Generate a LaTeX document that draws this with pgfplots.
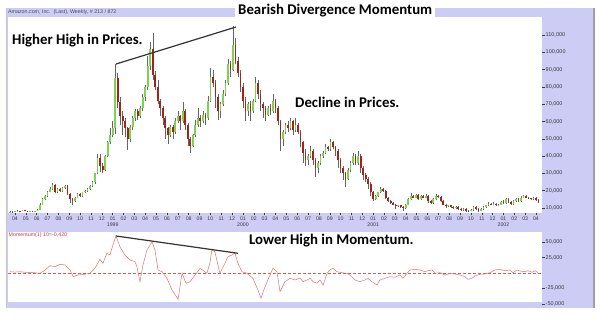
\documentclass[border=0pt]{standalone}
\usepackage{pgfplots}
\pgfplotsset{compat=1.18}
\usepackage{pgfplotstable}
\usepackage{fontspec}
\setmainfont{Liberation Sans}
\newfontfamily\annfont{Carlito}
\definecolor{lav}{RGB}{204,204,245}
\definecolor{upc}{RGB}{125,210,85}
\definecolor{dnc}{RGB}{165,35,20}
\definecolor{wickc}{RGB}{100,100,100}
\definecolor{momc}{RGB}{220,115,115}
\definecolor{zeroc}{RGB}{200,95,90}
\definecolor{tickc}{RGB}{60,60,60}

\pgfplotstableread{
k lo hi op cl
-2 7.3 8.1 7.6 7.9
0 7.6 8.2 7.7 8.0
1 7.9 8.6 8.0 8.4
3 8.0 8.8 8.1 8.6
6 7.9 8.5 8.0 8.3
8 7.8 8.4 7.9 8.2
9 8.0 9.4 8.2 9.0
10 8.8 12.6 9.0 12.0
11 11.6 15.5 12.0 15.0
12 14.5 17.6 15.0 17.0
13 16.5 20.0 17.0 19.5
14 19.0 22.0 19.5 21.0
15 20.5 24.5 21.0 23.0
17 18.5 21.5 19.0 21.0
19 19.5 22.0 20.0 21.5
20 21.0 23.5 21.5 22.5
24 13.5 16.5 14.0 16.0
25 15.5 18.5 16.0 18.0
27 16.5 19.5 17.0 19.0
28 18.5 20.5 19.0 20.0
29 19.5 21.5 20.0 21.0
30 20.5 23.0 21.0 22.5
31 22.0 25.5 22.5 25.0
32 24.0 30.5 25.0 30.0
33 29.5 41.0 30.0 39.0
36 31.5 40.5 32.0 40.0
37 39.5 49.0 40.0 48.0
38 47.0 56.0 48.0 52.0
39 51.0 60.0 52.0 56.0
40 53.0 93.0 56.0 85.0
46 48.0 58.0 50.0 57.0
47 55.0 63.0 57.0 62.0
48 60.0 67.0 62.0 66.0
50 62.0 69.0 63.0 68.0
51 66.0 76.0 68.0 74.0
52 72.0 81.0 74.0 80.0
53 78.0 98.0 80.0 92.0
54 90.0 106.0 92.0 102.0
62 51.0 58.0 52.0 57.0
64 53.0 62.0 54.0 60.0
65 59.0 66.0 60.0 63.0
67 59.0 71.0 60.0 66.0
71 45.0 53.0 46.0 52.0
72 51.0 61.0 52.0 58.0
73 57.0 68.0 58.0 62.0
75 59.0 66.0 60.0 64.0
77 61.0 75.0 62.0 72.0
78 71.0 91.0 72.0 86.0
82 62.0 71.0 66.0 70.0
83 69.0 78.0 70.0 76.0
84 75.0 84.0 76.0 82.0
85 81.0 96.0 82.0 93.0
87 89.0 115.0 90.0 104.0
93 63.0 71.0 66.0 70.0
95 65.0 73.0 66.0 72.0
96 71.0 86.0 72.0 82.0
101 63.0 69.0 64.0 68.0
103 65.0 76.0 66.0 72.0
107 46.0 55.0 50.0 54.0
108 53.0 59.0 54.0 58.0
110 55.0 62.0 56.0 60.0
112 54.0 62.0 55.0 58.0
117 35.0 41.0 38.0 40.0
118 39.0 46.0 40.0 43.0
121 30.0 37.0 33.0 36.0
122 35.0 41.0 36.0 40.0
123 39.0 43.0 40.0 42.0
124 41.0 47.0 42.0 45.0
126 43.0 50.0 44.0 48.0
133 26.0 33.0 27.0 32.0
134 31.0 37.0 32.0 36.0
135 35.0 42.0 36.0 40.0
137 35.0 43.0 36.0 40.0
144 14.5 17.5 15.0 17.0
145 16.5 19.5 17.0 19.0
146 18.5 22.0 19.0 21.0
153 10.5 12.0 11.0 11.5
156 9.5 12.5 10.0 12.0
157 11.5 15.5 12.0 15.0
158 14.5 18.5 15.0 17.0
160 15.5 18.0 16.0 17.5
162 14.5 17.5 15.0 17.0
164 15.5 18.0 16.0 17.0
167 12.5 15.5 13.0 15.0
168 14.5 18.0 15.0 17.0
173 10.5 12.0 11.0 11.5
176 9.5 11.0 10.0 10.5
179 8.5 10.0 9.0 9.5
182 8.0 9.5 8.2 9.0
183 8.5 11.0 9.0 10.5
186 8.0 10.0 8.5 9.5
187 9.0 11.0 9.5 10.5
188 10.0 12.0 10.5 11.5
189 11.0 13.5 11.5 12.5
191 11.5 13.5 12.0 12.5
193 11.0 12.5 11.5 12.0
194 11.5 14.0 12.0 13.5
196 12.5 16.0 13.0 15.0
199 12.0 14.5 12.5 14.0
200 13.5 15.5 14.0 15.0
202 13.5 17.0 14.0 16.0
203 15.5 17.5 16.0 17.0
207 14.5 16.5 15.0 16.0
}\upc

\pgfplotstableread{
k lo hi op cl
-1 7.5 8.0 7.9 7.7
2 7.9 8.5 8.4 8.1
4 8.1 8.7 8.6 8.3
5 7.8 8.4 8.3 8.0
7 7.7 8.4 8.3 7.9
16 18.5 24.0 23.0 19.0
18 19.5 21.8 21.0 20.0
21 17.5 23.0 22.5 18.0
22 13.0 18.5 18.0 15.0
23 12.0 15.5 15.0 14.0
26 16.5 18.5 18.0 17.0
34 31.0 41.0 39.0 34.0
35 30.0 36.0 34.0 32.0
41 68.0 88.0 85.0 71.0
42 58.0 74.0 71.0 63.0
43 52.0 66.0 63.0 60.0
44 51.0 62.0 60.0 56.0
45 43.5 57.0 56.0 50.0
49 61.0 67.5 66.0 63.0
55 84.0 111.0 102.0 87.0
56 78.0 89.0 87.0 80.0
57 70.0 84.0 80.0 72.0
58 63.0 73.0 72.0 68.0
59 58.0 69.0 68.0 62.0
60 50.0 63.0 62.0 56.0
61 47.0 57.0 56.0 52.0
63 50.0 58.0 57.0 54.0
66 55.0 64.0 63.0 60.0
68 55.0 67.0 66.0 58.0
69 46.0 59.0 58.0 50.0
70 42.0 51.0 50.0 46.0
74 57.0 64.0 62.0 60.0
76 58.0 65.0 64.0 62.0
79 80.0 90.0 86.0 82.0
80 68.0 84.0 82.0 74.0
81 61.0 76.0 74.0 66.0
86 86.0 95.0 93.0 90.0
88 93.0 108.0 104.0 95.0
89 86.0 97.0 95.0 88.0
90 77.0 90.0 88.0 80.0
91 68.0 82.0 80.0 72.0
92 60.0 74.0 72.0 66.0
94 60.0 72.0 70.0 66.0
97 73.0 84.0 82.0 76.0
98 66.0 78.0 76.0 70.0
99 62.0 71.0 70.0 68.0
100 60.0 69.0 68.0 64.0
102 64.0 70.0 68.0 66.0
104 65.0 73.0 72.0 68.0
105 58.0 69.0 68.0 60.0
106 43.0 61.0 60.0 50.0
109 54.0 60.0 58.0 56.0
111 52.0 61.0 60.0 55.0
113 53.0 59.0 58.0 54.0
114 45.0 55.0 54.0 48.0
115 36.0 49.0 48.0 42.0
116 34.0 44.0 42.0 38.0
119 35.0 44.0 43.0 38.0
120 28.0 39.0 38.0 33.0
125 43.0 46.0 45.0 44.0
127 44.0 49.0 48.0 45.0
128 40.0 46.0 45.0 43.0
129 33.0 44.0 43.0 38.0
130 30.0 39.0 38.0 33.0
131 26.0 34.0 33.0 30.0
132 22.0 31.0 30.0 27.0
136 35.0 41.0 40.0 36.0
138 30.0 41.0 40.0 33.0
139 26.0 34.0 33.0 29.0
140 25.0 30.0 29.0 27.0
141 21.0 28.0 27.0 24.0
142 17.0 25.0 24.0 19.0
143 14.0 20.0 19.0 15.0
147 19.5 21.5 21.0 20.0
148 15.0 20.5 20.0 16.0
149 13.5 16.5 16.0 14.0
150 12.5 14.5 14.0 13.0
151 11.5 13.5 13.0 12.0
152 9.5 12.5 12.0 11.0
154 10.0 12.0 11.5 10.5
155 8.5 11.0 10.5 10.0
159 15.5 17.5 17.0 16.0
161 14.5 18.0 17.5 15.0
163 15.5 17.5 17.0 16.0
165 13.0 17.5 17.0 14.0
166 12.5 14.5 14.0 13.0
169 16.0 17.5 17.0 16.5
170 13.5 17.0 16.5 14.0
171 11.5 14.5 14.0 12.0
172 10.0 12.5 12.0 11.0
174 10.0 12.0 11.5 10.5
175 9.5 11.0 10.5 10.0
177 9.0 11.0 10.5 9.5
178 8.5 10.0 9.5 9.0
180 7.8 10.0 9.5 8.5
181 7.8 9.0 8.5 8.2
184 9.0 11.0 10.5 9.5
185 7.6 10.0 9.5 8.5
190 11.5 13.0 12.5 12.0
192 11.0 13.0 12.5 11.5
195 12.5 14.5 13.5 13.0
197 13.0 15.5 15.0 13.5
198 12.0 14.0 13.5 12.5
201 13.5 15.5 15.0 14.0
204 15.5 17.5 17.0 16.0
205 15.0 16.5 16.0 15.5
206 14.5 16.0 15.5 15.0
208 14.0 16.5 16.0 14.5
209 13.0 15.0 14.5 13.5
}\dnc

\pgfplotstableread{
w v
-2.0 2.1
0 1.5
2.0 2.1
4 1.2
6.0 1.1
8 0.3
10.0 -0.5
12.0 4.9
14.0 11.9
16.0 10.3
18.0 14.2
20.0 13.1
22.0 4.9
23.2 -6.0
25.1 -3.3
27.9 -2.1
29.9 -0.5
31.9 7.7
33.9 22.4
35.1 15.8
36.7 32.2
37.9 29.4
39.1 45.8
40.3 60.5
41.9 43.0
43.9 29.4
45.9 21.2
47.9 18.5
48.7 10.3
49.9 -14.2
51.1 13.1
52.7 37.6
54.7 51.1
55.9 37.6
57.1 4.9
58.7 2.1
60.7 -8.7
62.7 -27.8
65.1 -43.0
66.7 -0.5
68.3 -16.8
69.9 -14.2
71.9 -3.3
73.9 7.7
76.6 -0.5
77.8 15.8
78.6 37.6
79.8 34.8
81.8 -0.5
83.8 15.8
85.0 26.6
86.6 29.4
87.8 32.2
89.0 15.8
90.6 2.1
92.6 -0.5
95.0 -8.7
97.0 -27.8
98.2 -41.3
99.8 -22.4
101.8 -3.3
103.0 7.7
104.6 2.1
105.8 -30.6
107.8 -14.2
109.8 -8.7
111.8 -11.4
113.8 -8.2
115.0 -14.2
116.6 -11.4
117.8 -8.7
119.0 -14.2
120.6 -16.8
121.8 -11.4
123.0 -19.6
124.6 -0.5
125.7 4.9
126.9 7.7
128.5 2.1
130.5 0.5
132.5 -0.5
133.7 -3.3
135.7 -11.4
137.7 -14.2
139.7 -11.4
140.9 -8.7
142.5 -14.2
144.5 -19.6
145.7 -11.4
147.7 -8.7
149.7 -6.0
151.7 -7.0
153.7 -3.3
154.9 -8.7
156.5 -0.5
157.7 4.9
159.7 6.0
161.7 4.9
163.7 2.1
164.9 3.8
166.5 4.9
167.7 -0.5
169.7 0.5
171.7 -3.3
173.7 -0.5
175.6 -1.6
177.6 -3.3
179.6 -6.0
180.8 -10.3
182.4 -8.7
183.6 -4.9
185.6 -2.1
187.6 -1.6
189.6 0.5
191.6 4.9
193.6 6.0
195.6 3.8
197.6 4.9
198.8 0.5
200.4 4.9
201.6 3.3
203.6 2.1
204.8 3.8
206.4 1.1
207.6 3.8
208.8 0.5
}\mom

\pgfplotsset{
  candle/.style={only marks, mark=*, mark size=0pt, mark options={draw=none, fill=none}, forget plot,
    error bars/.cd, y dir=plus, y explicit, error mark=none,
    error bar style={#1}},
}

\begin{document}
\begin{tikzpicture}
\path[use as bounding box] (0,0) rectangle (600bp,320bp);
\fill[white] (0,0) rectangle (600bp,320bp);
\fill[lav] (6bp,12bp) rectangle (593bp,312bp);
\draw[gray!45, line width=0.6bp] (6bp,12bp) -- (6bp,312bp);
\draw[gray!75, line width=1.4bp] (594bp,12bp) -- (594bp,312bp);
\node[anchor=west, inner sep=0pt, text=black!70, font=\fontsize{5.3bp}{6bp}\selectfont] at (8bp,307.5bp) {Amazon.com, Inc.\ \ (Last), Weekly, \# 213 / 872};

\begin{axis}[
  at={(8bp,107bp)}, anchor=south west, scale only axis,
  width=534bp, height=196bp,
  xmin=-2.79, xmax=210.4, ymin=7.1, ymax=120.4,
  axis background/.style={fill=white},
  axis line style={draw=none},
  xtick pos=bottom, xticklabel pos=bottom,
  ytick pos=right, yticklabel pos=right,
  tick align=outside, major tick length=2.5bp,
  tick style={tickc, line width=0.4bp},
  xtick={0,4.33333,...,208.1},
  xticklabels={04,05,06,07,08,09,10,11,12,01,02,03,04,05,06,07,08,09,10,11,12,01,02,03,04,05,06,07,08,09,10,11,12,01,02,03,04,05,06,07,08,09,10,11,12,01,02,03,04},
  extra x ticks={39,91,143,195},
  extra x tick labels={1999,2000,2001,2002},
  extra x tick style={major tick length=0pt, xticklabel style={yshift=-8.7bp}},
  ytick={10,20,...,110},
  yticklabels={{10,000},{20,000},{30,000},{40,000},{50,000},{60,000},{70,000},{80,000},{90,000},{100,000},{110,000}},
  xticklabel style={font=\fontsize{5.2bp}{6bp}\selectfont, text=tickc, inner sep=1bp},
  yticklabel style={font=\fontsize{5.5bp}{6bp}\selectfont, text=tickc, inner sep=1bp},
]
\addplot[candle={wickc, line width=0.5bp}] table[x=k, y=lo, y error expr=\thisrow{hi}-\thisrow{lo}] {\upc};
\addplot[candle={wickc, line width=0.5bp}] table[x=k, y=lo, y error expr=\thisrow{hi}-\thisrow{lo}] {\dnc};
\addplot[candle={upc, line width=1.7bp}] table[x=k, y=op, y error expr=\thisrow{cl}-\thisrow{op}] {\upc};
\addplot[candle={dnc, line width=1.7bp}] table[x=k, y=cl, y error expr=\thisrow{op}-\thisrow{cl}] {\dnc};
\draw[black!80, line width=1.2bp] (axis cs:40.3,93.2) -- (axis cs:88.2,114.6);
\end{axis}

\begin{axis}[
  at={(8bp,18bp)}, anchor=south west, scale only axis,
  width=534bp, height=70bp,
  xmin=-2.79, xmax=210.4, ymin=-47.4, ymax=67,
  axis background/.style={fill=white},
  axis line style={draw=none},
  xtick=\empty,
  ytick pos=right, yticklabel pos=right,
  tick align=outside, major tick length=2.5bp,
  tick style={tickc, line width=0.4bp},
  ytick={-25,25,50},
  yticklabels={{-25,000},{25,000},{50,000}},
  yticklabel style={font=\fontsize{5.5bp}{6bp}\selectfont, text=tickc, inner sep=1bp},
]
\addplot[color=zeroc, line width=0.5bp, dash pattern=on 3bp off 2bp] coordinates {(-2.79,0) (210.4,0)};
\addplot[color=momc, line width=0.5bp] table[x=w, y=v] {\mom};
\draw[black!80, line width=1.2bp] (axis cs:40.3,60.5) -- (axis cs:89,32.2);
\end{axis}

\draw[tickc, line width=0.4bp] (542bp,15.7bp) -- (544.5bp,15.7bp);
\node[anchor=west, inner sep=1bp, text=tickc, font=\fontsize{5.5bp}{6bp}\selectfont] at (544.5bp,15.7bp) {-50,000};

\node[anchor=north west, inner sep=0.5bp, text={rgb,255:red,205;green,60;blue,60}, font=\fontsize{5.3bp}{6bp}\selectfont] at (8bp,87.6bp) {Momentum(1) 10=-0,420};

\node[anchor=base west, fill=white, inner xsep=3bp, inner ysep=2bp, font=\annfont\bfseries\fontsize{14.8bp}{16bp}\selectfont] at (235bp,305bp) {Bearish Divergence Momentum};
\node[anchor=base west, inner sep=0pt, font=\annfont\bfseries\fontsize{14.8bp}{16bp}\selectfont] at (12bp,275.5bp) {Higher High in Prices.};
\node[anchor=base west, inner sep=0pt, font=\annfont\bfseries\fontsize{14.8bp}{16bp}\selectfont] at (295bp,212bp) {Decline in Prices.};
\node[anchor=base west, inner sep=0pt, font=\annfont\bfseries\fontsize{14.8bp}{16bp}\selectfont] at (249bp,75bp) {Lower High in Momentum.};
\end{tikzpicture}
\end{document}
